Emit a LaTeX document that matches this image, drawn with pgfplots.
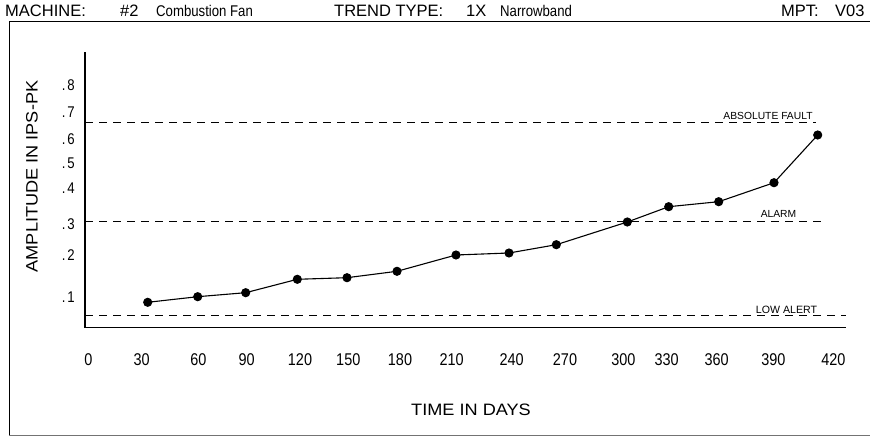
\documentclass[border=0pt]{standalone}
\usepackage{fontspec}
\setmainfont{Liberation Sans}
\newfontfamily\narrowfont{Liberation Sans}[FakeStretch=0.85]
\newfontfamily\widefont{Liberation Sans}[FakeStretch=1.1]
\usepackage{pgfplots}
\pgfplotsset{compat=1.18}
\begin{document}
\begin{tikzpicture}
\path[use as bounding box] (0,0) rectangle (870pt,436pt);
\begin{axis}[
  at={(85pt,108.3pt)}, anchor=south west,
  x=1pt, y=1pt,
  xmin=85, xmax=846, ymin=0, ymax=276,
  axis lines*=left,
  axis line style={line width=1.1pt},
  major tick length=0pt,
  clip=false,
  /pgf/number format/assume math mode=true,
  xtick={88.3,141.7,198.3,246.7,300,348.3,400,451.7,511.7,565,623.3,666.7,716.7,773.3,833.3},
  xticklabels={0,30,60,90,120,150,180,210,240,270,300,330,360,390,420},
  ytick={30.7,72.7,103.7,139.7,164.7,188.7,216,242.7},
  yticklabels={.\hspace{2pt}1,.\hspace{2pt}2,.\hspace{2pt}3,.\hspace{2pt}4,.\hspace{2pt}5,.\hspace{2pt}6,.\hspace{2pt}7,.\hspace{2pt}8},
  xticklabel style={font=\narrowfont\fontsize{17}{17}\selectfont, anchor=center, inner sep=0pt, yshift=-32pt},
  yticklabel style={font=\narrowfont\fontsize{15.5}{15.5}\selectfont, anchor=east, inner sep=0pt, xshift=-10pt},
]
% threshold lines
\addplot[black, line width=0.9pt, dash pattern=on 8pt off 6pt] coordinates {(85,205) (816,205)};
\addplot[black, line width=0.9pt, dash pattern=on 8pt off 6pt] coordinates {(85,106) (822,106)};
\addplot[black, line width=0.9pt, dash pattern=on 8pt off 6pt] coordinates {(85,12.7) (846,12.7)};
\node[anchor=base, inner sep=0pt, font=\fontsize{10.3}{10.3}\selectfont] at (axis cs:768,207.7) {ABSOLUTE FAULT};
\node[anchor=base, inner sep=0pt, font=\fontsize{10.3}{10.3}\selectfont] at (axis cs:778.5,110.4) {ALARM};
\node[anchor=base, inner sep=0pt, font=\fontsize{10.6}{10.6}\selectfont] at (axis cs:786.5,14.4) {LOW ALERT};
% trend data
\addplot[black, line width=1.1pt, mark=*, mark size=4pt, mark options={solid, fill=black}] coordinates {
(147.7,25.4) (197.7,31) (245.7,35) (297.3,48.4) (347,50) (397,56.4) (456,72.7)
(509,74.7) (556.3,83) (627.3,105.7) (668.7,121) (718.7,126) (774,145) (817.7,192.7)
};
\end{axis}
% outer frame
\draw[line width=1pt] (9pt,1pt) -- (9pt,414pt) -- (870pt,414pt);
\draw[line width=0.8pt, black!55] (9pt,1pt) -- (870pt,1pt);
% header
\begin{scope}[every node/.style={anchor=base west, inner sep=0pt, font=\fontsize{16.5}{16.5}\selectfont}]
\node at (5pt,419pt) {MACHINE:};
\node at (120pt,419pt) {\#2};
\node[font=\narrowfont\fontsize{15.5}{15.5}\selectfont] at (156pt,419pt) {Combustion Fan};
\node at (334pt,419pt) {TREND TYPE:};
\node at (466pt,419pt) {1X};
\node[font=\narrowfont\fontsize{15.5}{15.5}\selectfont] at (500pt,419pt) {Narrowband};
\node at (781pt,419pt) {MPT:};
\node at (835pt,419pt) {V03};
\end{scope}
% axis titles
\node[font=\widefont\fontsize{16.5}{16.5}\selectfont, inner sep=0pt] at (471pt,26pt) {TIME IN DAYS};
\node[font=\widefont\fontsize{16.5}{16.5}\selectfont, inner sep=0pt, rotate=90] at (32pt,259.5pt) {AMPLITUDE IN IPS-PK};
\end{tikzpicture}
\end{document}
